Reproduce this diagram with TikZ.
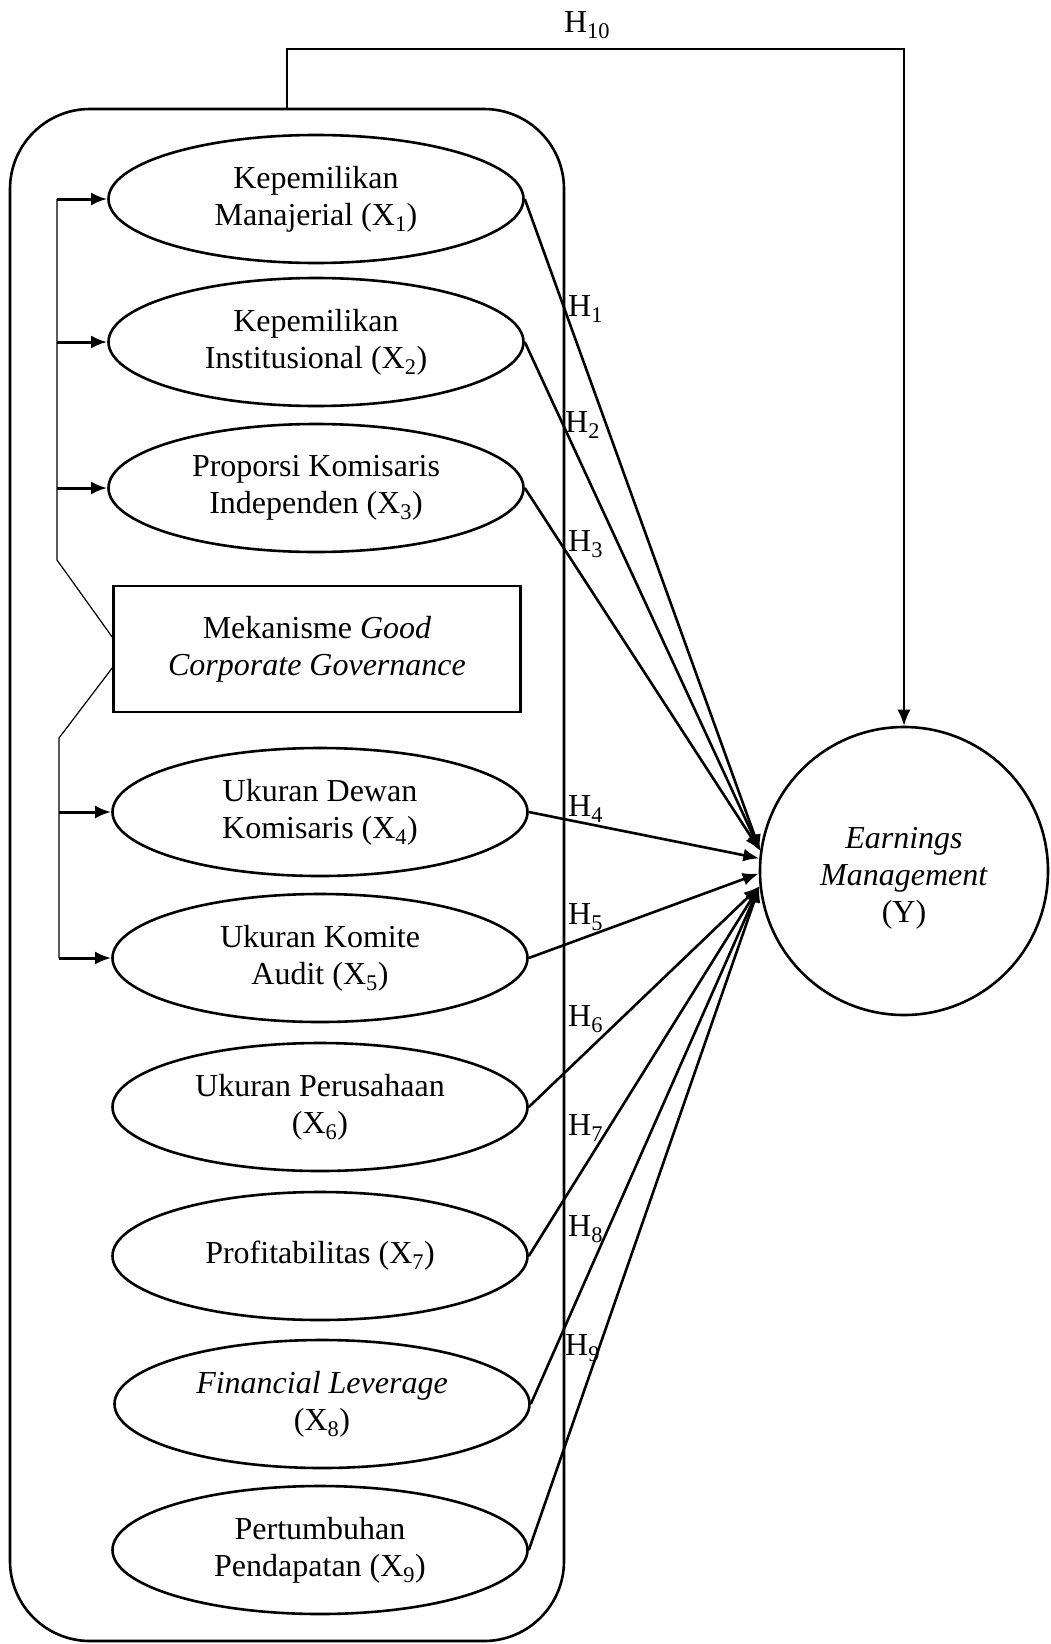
\documentclass[tikz,border=0pt]{standalone}
\usepackage{fontspec}
\setmainfont{Liberation Serif}
\usetikzlibrary{arrows.meta,positioning,shapes.geometric}

\begin{document}
\begin{tikzpicture}[x=1pt, y=-1pt, >={Latex[length=16pt,width=13pt]},
    every node/.style={font=\fontsize{32}{37}\selectfont, align=center},
    var/.style={draw, ellipse, line width=2.6pt, minimum width=415pt, minimum height=128pt, inner sep=0pt},
    gcgbox/.style={draw, rectangle, line width=2.6pt, minimum width=407pt, minimum height=126pt},
    dep/.style={draw, circle, line width=2.6pt, minimum size=288pt, inner sep=0pt},
    hyp/.style={->, line width=2.6pt},
    feed/.style={->, line width=3pt},
    link/.style={line width=1.2pt},
    hlabel/.style={anchor=west, inner sep=0pt}]
    \useasboundingbox (0,0) rectangle (1050,1644);

    % frame round the independent variables
    \node [draw, rounded corners=80pt, line width=2.6pt, minimum width=554pt, minimum height=1532pt] (frame) at (287,875) {};

    \node [var] (x1) at (316,199) {Kepemilikan\\Manajerial (X\textsubscript{1})};
    \node [var] (x2) at (316,342) {Kepemilikan\\Institusional (X\textsubscript{2})};
    \node [var] (x3) at (316,488) {Proporsi Komisaris\\Independen (X\textsubscript{3})};
    \node [gcgbox] (gcg) at (317,649) {Mekanisme \textit{Good}\\\textit{Corporate Governance}};
    \node [var] (x4) at (320,812) {Ukuran Dewan\\Komisaris (X\textsubscript{4})};
    \node [var] (x5) at (320,958) {Ukuran Komite\\Audit (X\textsubscript{5})};
    \node [var] (x6) at (320,1107) {Ukuran Perusahaan\\(X\textsubscript{6})};
    \node [var] (x7) at (320,1256) {Profitabilitas (X\textsubscript{7})};
    \node [var] (x8) at (322,1404) {\textit{Financial Leverage}\\(X\textsubscript{8})};
    \node [var] (x9) at (320,1550) {Pertumbuhan\\Pendapatan (X\textsubscript{9})};

    \node [dep, label={[yshift=-7pt]center:{\textit{Earnings}\\\textit{Management}\\(Y)}}] (y) at (904,871) {};

    % bracket from the GCG box
    \coordinate (brk1) at (57,560);
    \coordinate (brk2) at (59,738);
    \draw [link] (x1.west -| brk1) -- (brk1) -- ([yshift=12pt]gcg.west);
    \draw [link] ([yshift=-19pt]gcg.west) -- (brk2) -- (x5.west -| brk2);
    \foreach \n in {x1,x2,x3}
        \draw [feed] (\n.west -| brk1) -- (\n.west);
    \foreach \n in {x4,x5}
        \draw [feed] (\n.west -| brk2) -- (\n.west);

    % hypotheses
    \draw [hyp] (x1.east) -- (y.172);
    \draw [hyp] (x2.east) -- (y.172);
    \draw [hyp] (x3.east) -- (y.172);
    \draw [hyp] (x4.east) -- (y.175);
    \draw [hyp] (x5.east) -- (y.181);
    \foreach \n in {x6,x7,x8,x9}
        \draw [hyp] (\n.east) -- (y.186);

    \node [hlabel] (h1) at (568,309) {H\textsubscript{1}};
    \node [hlabel] (h2) at (565,425) {H\textsubscript{2}};
    \node [hlabel] (h3) at (568,544) {H\textsubscript{3}};
    \node [hlabel] (h4) at (568,809) {H\textsubscript{4}};
    \node [hlabel] (h5) at (568,917) {H\textsubscript{5}};
    \node [hlabel] (h6) at (568,1019) {H\textsubscript{6}};
    \node [hlabel] (h7) at (568,1128) {H\textsubscript{7}};
    \node [hlabel] (h8) at (568,1229) {H\textsubscript{8}};
    \node [hlabel] (h9) at (565,1348) {H\textsubscript{9}};

    % simultaneous path
    \coordinate (ttop) at (287,49);
    \draw [->, line width=1.6pt] (frame.north) -- (ttop) -| (y.north);
    \node (h10) at (587,25) {H\textsubscript{10}};
\end{tikzpicture}
\end{document}
